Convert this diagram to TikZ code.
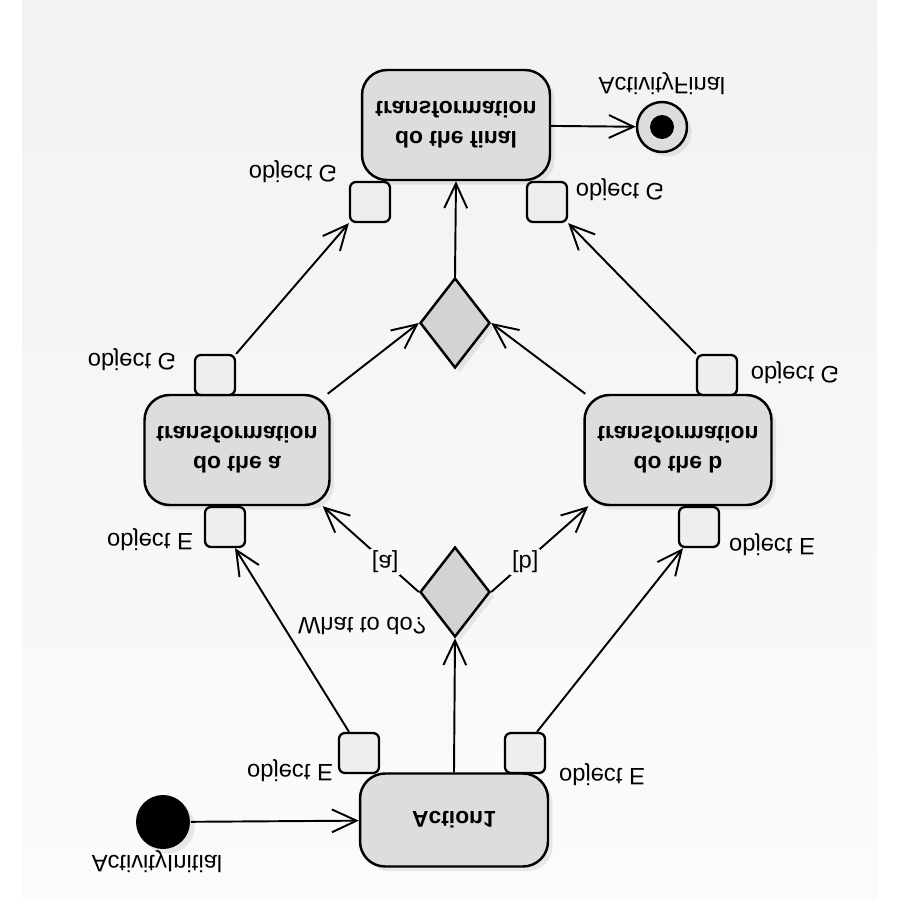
\documentclass[tikz,border=0pt]{standalone}
\usepackage{fontspec}
\setmainfont{Liberation Sans}
\usetikzlibrary{arrows.meta,shapes.geometric,shadows}

\definecolor{bgtop}{HTML}{F2F2F2}
\definecolor{bgbot}{HTML}{FBFBFB}
\definecolor{bgmid}{HTML}{F7F7F7}
\definecolor{actfill}{HTML}{DDDDDD}
\definecolor{pinfill}{HTML}{EEEEEE}
\definecolor{decfill}{HTML}{D3D3D3}

\begin{document}
\begin{tikzpicture}[->, >={Straight Barb[length=14pt,width=13pt]}, line width=1.1pt, x=0.02cm, y=0.02cm, yscale=-1, every node/.append style={transform shape}, font=\fontsize{13.5}{17}\selectfont]
	\tikzstyle{action}=[draw, line width=1.4pt, rounded corners=0.5cm, fill=actfill, align=center, inner sep=0pt, font=\fontsize{13}{17}\selectfont\bfseries, drop shadow={opacity=0.15}]
	\tikzstyle{pin}=[draw, line width=1.3pt, rounded corners=0.12cm, fill=pinfill, minimum size=0.8cm, inner sep=0pt]
	\tikzstyle{decision}=[draw, line width=1.4pt, diamond, fill=decfill, minimum width=1.4cm, minimum height=1.8cm, inner sep=0pt, drop shadow={opacity=0.15}]
	\tikzstyle{lbl}=[inner sep=1pt]
	\useasboundingbox (0,0) rectangle (900,900);
	\fill[-, top color=bgtop, bottom color=bgbot] (22,0) rectangle (877,900);
	\node[action, minimum width=3.76cm, minimum height=1.86cm] (act1) at (454,820) {Action1};
	\node[action, minimum width=3.7cm, minimum height=2.2cm] (ta) at (237,450) {do the a\\transformation};
	\node[action, minimum width=3.74cm, minimum height=2.2cm] (tb) at (678,450) {do the b\\transformation};
	\node[action, minimum width=3.76cm, minimum height=2.2cm] (fin) at (456,125) {do the final\\transformation};
	\node[decision] (dec) at (455,592) {};
	\node[decision] (merge) at (455,323) {};
	\node[circle, fill=black, minimum size=1.08cm, inner sep=0pt, drop shadow={opacity=0.15}] (init) at (163,822) {};
	\node[circle, draw, line width=1.4pt, fill=actfill, minimum size=1cm, inner sep=0pt, drop shadow={opacity=0.15}] (end) at (662,127) {};
	\fill[black] (end) circle (0.24cm);
	% pins
	\node[pin] (pinC1) at (359,753) {};
	\node[pin] (pinC2) at (525,753) {};
	\node[pin] (pinAi) at (225,527) {};
	\node[pin] (pinBi) at (699,527) {};
	\node[pin] (pinAo) at (215,375) {};
	\node[pin] (pinBo) at (717,375) {};
	\node[pin] (pinFa) at (370,202) {};
	\node[pin] (pinFb) at (547,202) {};
	% labels
	\node[lbl] (lInit) at (157,862) {ActivityInitial};
	\node[lbl] (lEnd) at (662,84) {ActivityFinal};
	\node[lbl] (lC1) at (290,771) {object E};
	\node[lbl] (lC2) at (602,775) {object E};
	\node[lbl] (lAi) at (150,540) {object E};
	\node[lbl] (lBi) at (772,545) {object E};
	\node[lbl] (lAo) at (132,360) {object G};
	\node[lbl] (lBo) at (795,373) {object G};
	\node[lbl] (lFa) at (293,172) {object G};
	\node[lbl] (lFb) at (620,190) {object G};
	\node[lbl] (lDec) at (362,626) {What to do?};
	\path
	(init) edge (act1)
	([xshift=-0.2cm]pinC1.south) edge ([xshift=0.2cm]pinAi.north)
	([xshift=0.24cm]pinC2.south) edge ([xshift=-0.32cm]pinBi.north)
	(act1.south) edge (dec.north)
	(dec.west) edge node[lbl, fill=bgmid, pos=0.35] {[a]} ([xshift=-0.16cm]ta.north east)
	(dec.east) edge node[lbl, fill=bgmid, pos=0.35] {[b]} ([xshift=0.1cm]tb.north west)
	([xshift=-0.06cm]ta.south east) edge (merge.west)
	([xshift=0.04cm]tb.south west) edge (merge.east)
	(merge.south) edge (fin.north)
	(pinAo.south east) edge (pinFa.north west)
	(pinBo.south west) edge (pinFb.north east)
	(fin) edge (end);
\end{tikzpicture}
\end{document}
